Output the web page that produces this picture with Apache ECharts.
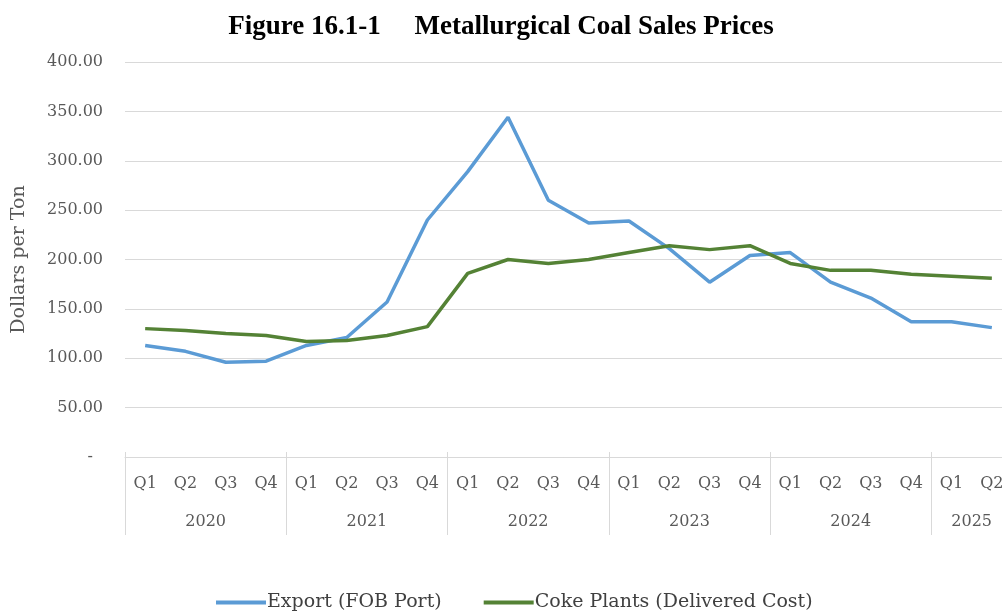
<!DOCTYPE html>
<html>
<head>
<meta charset="utf-8">
<script src="https://cdn.jsdelivr.net/npm/echarts@6/dist/echarts.min.js"></script>
<style>
  html, body { margin: 0; padding: 0; background: #fff; }
  #chart { width: 1002px; height: 612px; }
</style>
</head>
<body>
<div id="chart"></div>
<script>
// Quarterly metallurgical coal sales prices, dollars per ton
const quarters = ['Q1','Q2','Q3','Q4','Q1','Q2','Q3','Q4','Q1','Q2','Q3','Q4',
                  'Q1','Q2','Q3','Q4','Q1','Q2','Q3','Q4','Q1','Q2'];
const years = ['2020', '2021', '2022', '2023', '2024', '2025'];
const yearStarts = [0, 4, 8, 12, 16, 20];       // first quarter index of each year
const yearCentres = [2, 6, 10, 14, 18, 21];     // label positions on the year row
const exportFob = [113, 107, 96, 97, 113, 121, 157, 240, 289, 344, 260, 237,
                   239, 211, 177, 204, 207, 177, 161, 137, 137, 131];
const cokePlants = [130, 128, 125, 123, 117, 118, 123, 132, 186, 200, 196, 200,
                    207, 214, 210, 214, 196, 189, 189, 185, 183, 181];
const yTicks = { min: 0, max: 400, step: 50 };

const labelFont = 'DejaVu Serif';
const textGray = '#595959';
const gridGray = '#d9d9d9';

const chart = echarts.init(document.getElementById('chart'), null, { renderer: 'canvas' });
chart.setOption({
  animation: false,
  backgroundColor: '#ffffff',
  title: {
    text: 'Figure 16.1-1     Metallurgical Coal Sales Prices',
    left: 'center',
    top: 9,
    textStyle: { fontFamily: 'Liberation Serif', fontWeight: 'bold', fontSize: 27, color: '#000' }
  },
  legend: {
    bottom: -5,
    left: 211,
    icon: 'rect',
    itemWidth: 50,
    itemHeight: 4,
    itemGap: 42,
    textStyle: { fontFamily: labelFont, fontSize: 19, color: '#404040', padding: [0, 0, 0, -4] },
    data: ['Export (FOB Port)', 'Coke Plants (Delivered Cost)']
  },
  grid: { left: 125, right: -10, top: 62, bottom: 155, containLabel: false, outerBoundsMode: 'none' },
  xAxis: [
    {
      type: 'category',
      data: quarters,
      boundaryGap: true,
      position: 'bottom',
      axisLine: { show: true, lineStyle: { color: gridGray, width: 1 } },
      axisTick: { show: false },
      splitLine: { show: false },
      axisLabel: { interval: 0, margin: 19, fontFamily: labelFont, fontSize: 16, color: textGray }
    },
    {
      type: 'value',
      min: 0,
      max: quarters.length,
      position: 'bottom',
      offset: 78,
      axisLine: { show: false },
      splitLine: { show: false },
      axisTick: {
        show: true,
        inside: true,
        length: 83,
        customValues: yearStarts,
        lineStyle: { color: gridGray, width: 1 }
      },
      axisLabel: {
        inside: true,
        margin: 5,
        customValues: yearCentres,
        formatter: function (v) { return years[yearCentres.indexOf(v)] || ''; },
        fontFamily: labelFont, fontSize: 16, color: textGray
      }
    }
  ],
  yAxis: {
    type: 'value',
    min: yTicks.min,
    max: yTicks.max,
    interval: yTicks.step,
    name: 'Dollars per Ton',
    nameLocation: 'middle',
    nameRotate: 90,
    nameGap: 96,
    nameTextStyle: { fontFamily: labelFont, fontSize: 19, color: textGray },
    axisLine: { show: false },
    axisTick: { show: false },
    splitLine: { show: true, lineStyle: { color: gridGray, width: 1 } },
    axisLabel: {
      margin: 22,
      fontFamily: labelFont, fontSize: 16, color: textGray,
      formatter: function (v) { return v === 0 ? '-  ' : v.toFixed(2); }
    }
  },
  series: [
    {
      name: 'Export (FOB Port)',
      type: 'line',
      xAxisIndex: 0,
      data: exportFob,
      symbol: 'none',
      lineStyle: { color: '#5b9bd5', width: 3.5 },
      itemStyle: { color: '#5b9bd5' }
    },
    {
      name: 'Coke Plants (Delivered Cost)',
      type: 'line',
      xAxisIndex: 0,
      data: cokePlants,
      symbol: 'none',
      lineStyle: { color: '#548235', width: 3.5 },
      itemStyle: { color: '#548235' }
    }
  ]
});
</script>
</body>
</html>
